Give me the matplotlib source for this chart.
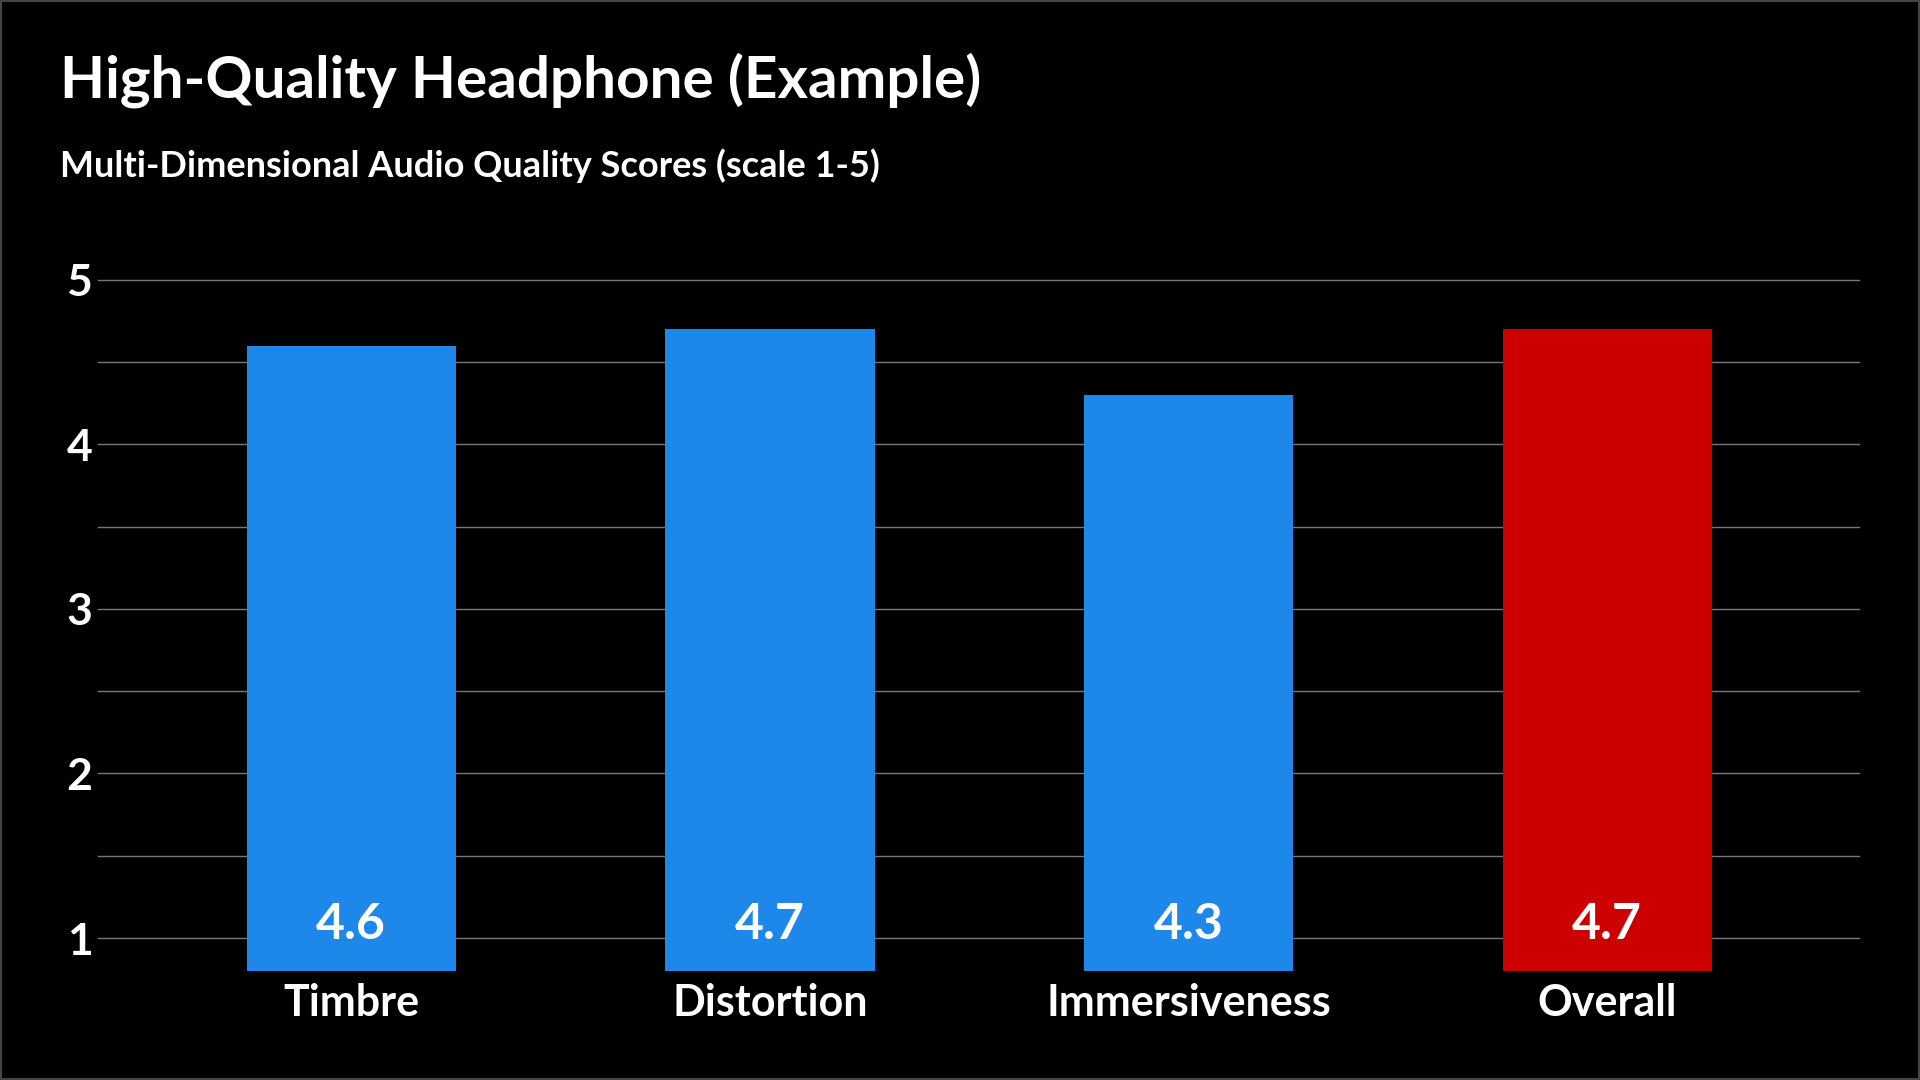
import matplotlib
matplotlib.use("Agg")
from matplotlib import pyplot as plt
from matplotlib.patches import Rectangle

categories = ["Timbre", "Distortion", "Immersiveness", "Overall"]
scores = [4.6, 4.7, 4.3, 4.7]
colors = ["#1e88ea", "#1e88ea", "#1e88ea", "#cc0000"]
y_ticks = [1, 2, 3, 4, 5]

plt.rcParams['font.family'] = ['Lato', 'DejaVu Sans']

fig = plt.figure(figsize=(19.2, 10.8), dpi=100, facecolor="black")
ax = fig.add_axes([0.051, 0.101, 0.917, 0.640])
ax.set_facecolor("black")

x = range(len(categories))
base = 0.8
ax.bar(x, [s - base for s in scores], bottom=base, width=0.5, color=colors, zorder=3)
for i, s in enumerate(scores):
    ax.text(i, 1.08, "%.1f" % s, ha="center", va="center", color="white",
            fontsize=36, fontweight="bold", zorder=4)

ax.set_xlim(-0.605, 3.6)
ax.set_ylim(base, 5.0)
for g in [1, 1.5, 2, 2.5, 3, 3.5, 4, 4.5, 5]:
    ax.axhline(g, color="#777777", linewidth=1, zorder=1, clip_on=False)

ax.set_yticks(y_ticks)
ax.set_yticklabels([str(t) for t in y_ticks], color="white", fontsize=32, fontweight="bold")
ax.set_xticks(list(x))
ax.set_xticklabels(categories, color="white", fontsize=31, fontweight="bold")
ax.tick_params(length=0, pad=9)
ax.tick_params(axis="y", pad=4)
for sp in ax.spines.values():
    sp.set_visible(False)

fig.text(0.031, 0.926, "High-Quality Headphone (Example)", color="white",
         fontsize=42, fontweight="bold", va="center")
fig.text(0.031, 0.847, "Multi-Dimensional Audio Quality Scores (scale 1-5)", color="white",
         fontsize=26, fontweight="bold", va="center")

fig.patches.append(Rectangle((0, 0), 1, 1, transform=fig.transFigure, fill=False,
                             edgecolor="#444444", linewidth=3))

fig.savefig("out.png", dpi=100, facecolor="black")
